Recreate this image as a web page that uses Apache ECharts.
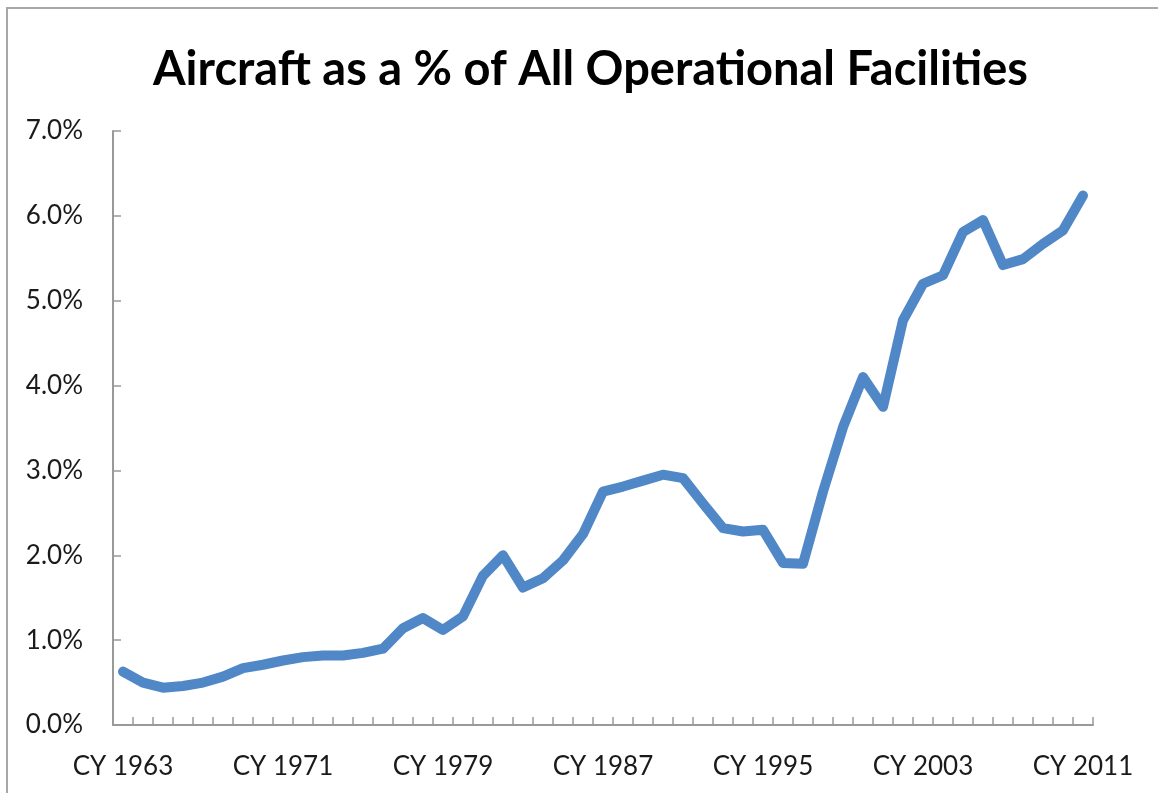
<!DOCTYPE html>
<html>
<head>
<meta charset="utf-8">
<script src="https://cdn.jsdelivr.net/npm/echarts@6/dist/echarts.min.js"></script>
<style>
html,body{margin:0;padding:0;background:#fff;}
#chart{width:1158px;height:793px;}
</style>
</head>
<body>
<div id="chart"></div>
<script>
var years = [];
for (var y = 1963; y <= 2011; y++) { years.push('CY ' + y); }

var aircraftPct = [
  0.63, 0.50, 0.44, 0.46, 0.50, 0.57, 0.67, 0.71, 0.76, 0.80,
  0.82, 0.82, 0.85, 0.90, 1.14, 1.26, 1.12, 1.28, 1.76, 2.00,
  1.62, 1.73, 1.94, 2.25, 2.75, 2.81, 2.88, 2.95, 2.91, 2.61,
  2.32, 2.28, 2.30, 1.91, 1.90, 2.75, 3.51, 4.10, 3.75, 4.77,
  5.20, 5.30, 5.81, 5.95, 5.42, 5.49, 5.67, 5.83, 6.24
];

var yTicks = [0, 1, 2, 3, 4, 5, 6, 7];

var chart = echarts.init(document.getElementById('chart'));
var font = 'Lato, "Open Sans", sans-serif';
chart.setOption({
  animation: false,
  backgroundColor: '#fff',
  title: {
    text: 'Aircraft as a % of All Operational Facilities',
    left: 148,
    top: 41,
    textStyle: { fontFamily: font, fontWeight: 'bold', fontSize: 47, color: '#000' }
  },
  graphic: [
    { type: 'rect', shape: { x: 7, y: 8, width: 1160, height: 800 },
      style: { fill: 'none', stroke: '#a8a8a8', lineWidth: 2 }, silent: true }
  ],
  grid: { left: 113, right: 65, top: 131, bottom: 68, containLabel: false },
  xAxis: {
    type: 'category',
    data: years,
    boundaryGap: true,
    axisLine: { lineStyle: { color: '#999', width: 2 } },
    axisTick: { show: true, inside: true, length: 8, interval: 0, lineStyle: { color: '#999', width: 1.5 } },
    axisLabel: { interval: 7, margin: 29, fontFamily: font, fontSize: 26, color: '#1a1a1a' },
    splitLine: { show: false }
  },
  yAxis: {
    type: 'value',
    min: yTicks[0],
    max: yTicks[yTicks.length - 1],
    interval: 1,
    axisLine: { show: true, lineStyle: { color: '#999', width: 2 } },
    axisTick: { show: true, inside: true, length: 8, lineStyle: { color: '#999', width: 1.5 } },
    axisLabel: { margin: 30, fontFamily: font, fontSize: 26, color: '#1a1a1a',
      formatter: function (v) { return v.toFixed(1) + '%'; } },
    splitLine: { show: false }
  },
  series: [{
    type: 'line',
    data: aircraftPct,
    symbol: 'none',
    smooth: false,
    lineStyle: { color: '#4f87c7', width: 10, cap: 'round', join: 'round' }
  }]
});
</script>
</body>
</html>
